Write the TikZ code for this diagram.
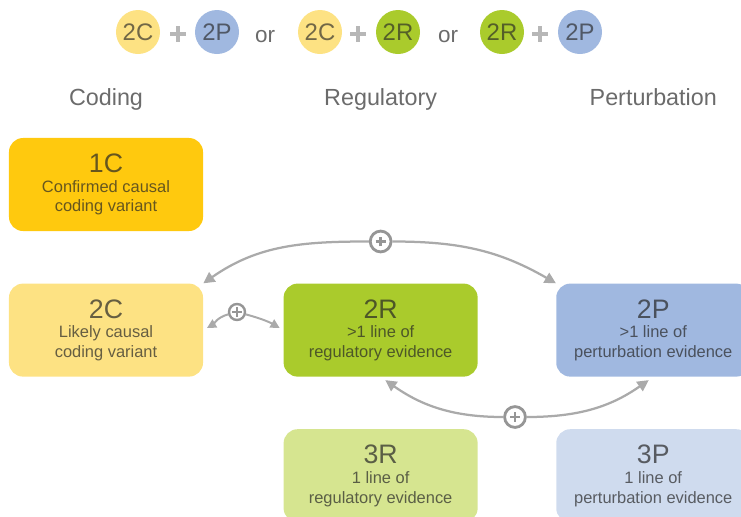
\documentclass[tikz,border=0pt]{standalone}
\usepackage{fontspec}
\setmainfont{Liberation Sans}
\usetikzlibrary{positioning,arrows.meta}

\definecolor{codeA}{RGB}{255,201,14}
\definecolor{codeB}{RGB}{253,226,131}
\definecolor{regB}{RGB}{170,203,44}
\definecolor{regC}{RGB}{214,229,144}
\definecolor{pertB}{RGB}{160,184,224}
\definecolor{pertC}{RGB}{207,219,238}
\definecolor{arrgray}{RGB}{170,170,170}
\definecolor{plusgray}{RGB}{150,150,150}

\newcommand\leveltitle[1]{{\fontsize{19}{22}\selectfont #1}}

\begin{document}
\begin{tikzpicture}[
  x=0.025cm, y=0.025cm,
  node distance=1.3cm and 2cm,
  level/.style={rectangle, rounded corners=10pt, minimum width=4.85cm, minimum height=2.325cm,
                inner sep=0pt, align=center, text=black!85, text opacity=0.7,
                font=\fontsize{11.7}{14}\selectfont},
  header/.style={font=\fontsize{16.6}{19}\selectfont, text=black!58, inner sep=0pt},
  bubble/.style={circle, minimum size=1.1cm, inner sep=0pt, text=black!85, text opacity=0.65,
                 font=\fontsize{17}{20}\selectfont},
  word/.style={font=\fontsize{16}{19}\selectfont, text=black!58, inner sep=0pt},
  plusmark/.style={arrgray!85, line width=3pt},
  plusjoin/.style={circle, draw=plusgray, line width=2pt, fill=white, minimum size=0.52cm, inner sep=0pt,
               path picture={\draw[plusgray, line width=2pt]
                 ([xshift=-3.5pt]path picture bounding box.center) -- ([xshift=3.5pt]path picture bounding box.center)
                 ([yshift=-3.5pt]path picture bounding box.center) -- ([yshift=3.5pt]path picture bounding box.center);}},
  plussmall/.style={plusjoin, minimum size=0.4cm, line width=1.7pt},
  arr/.style={-{Triangle[length=8pt,width=8pt]}, line width=1.6pt, draw=arrgray},
  arrsmall/.style={-{Triangle[length=6.5pt,width=6.5pt]}, line width=1.4pt, draw=arrgray},
]
  \useasboundingbox (0,0) rectangle (741,-516);
  \clip (0,0) rectangle (741,-516);

  % Top row: combinations
  \node[bubble, fill=codeB] (t1) at (138,-32) {2C};
  \node[bubble, fill=pertB] (t2) at (217,-32) {2P};
  \node[word, anchor=base] (or1) at (265,-42) {or};
  \node[bubble, fill=codeB] (t3) at (320,-32) {2C};
  \node[bubble, fill=regB] (t4) at (398,-32) {2R};
  \node[word, anchor=base] (or2) at (448,-42) {or};
  \node[bubble, fill=regB] (t5) at (502,-32) {2R};
  \node[bubble, fill=pertB] (t6) at (580,-32) {2P};
  \foreach \x in {178,358,540}
    \draw[plusmark] (\x-8,-34) -- (\x+8,-34) (\x,-26) -- (\x,-42);

  % Levels
  \node[level, fill=codeA] (c1) at (106,-184.5) {\leveltitle{1C}\\Confirmed causal\\coding variant};
  \node[level, fill=codeB, below=of c1] (c2) {\leveltitle{2C}\\Likely causal\\coding variant};
  \node[level, fill=regB, right=of c2] (r2) {\leveltitle{2R}\\>1 line of\\regulatory evidence};
  \node[level, fill=pertB, right=1.95cm of r2] (p2) {\leveltitle{2P}\\>1 line of\\perturbation evidence};
  \node[level, fill=regC, below=of r2] (r3) {\leveltitle{3R}\\1 line of\\regulatory evidence};
  \node[level, fill=pertC, below=of p2] (p3) {\leveltitle{3P}\\1 line of\\perturbation evidence};

  % Column headers
  \node[header, anchor=base] (hcod) at (106,-105) {Coding};
  \node[header, anchor=base] (hreg) at (r2 |- hcod.base) {Regulatory};
  \node[header, anchor=base] (hper) at (p2 |- hcod.base) {Perturbation};

  % Joins
  \node[plusjoin, above=0.75cm of r2] (plusA) {};
  \node[plussmall] (plusB) at (237,-312) {};
  \node[plusjoin] (plusC) at (515,-417) {};

  % Arrows
  \draw[arr] (plusA) to[out=180, in=35] (c2.north east);
  \draw[arr] (plusA) to[out=0, in=150] (p2.north west);
  \draw[arrsmall, shorten >=3pt] (plusB) to[out=195, in=30] (c2.east);
  \draw[arrsmall, shorten >=3pt] (plusB) to[out=-15, in=150] (r2.west);
  \draw[arr, shorten >=4pt] (plusC) to[out=180, in=-35] (r2.south);
  \draw[arr, shorten >=4pt] (plusC) to[out=0, in=215] (p2.south);
\end{tikzpicture}
\end{document}
